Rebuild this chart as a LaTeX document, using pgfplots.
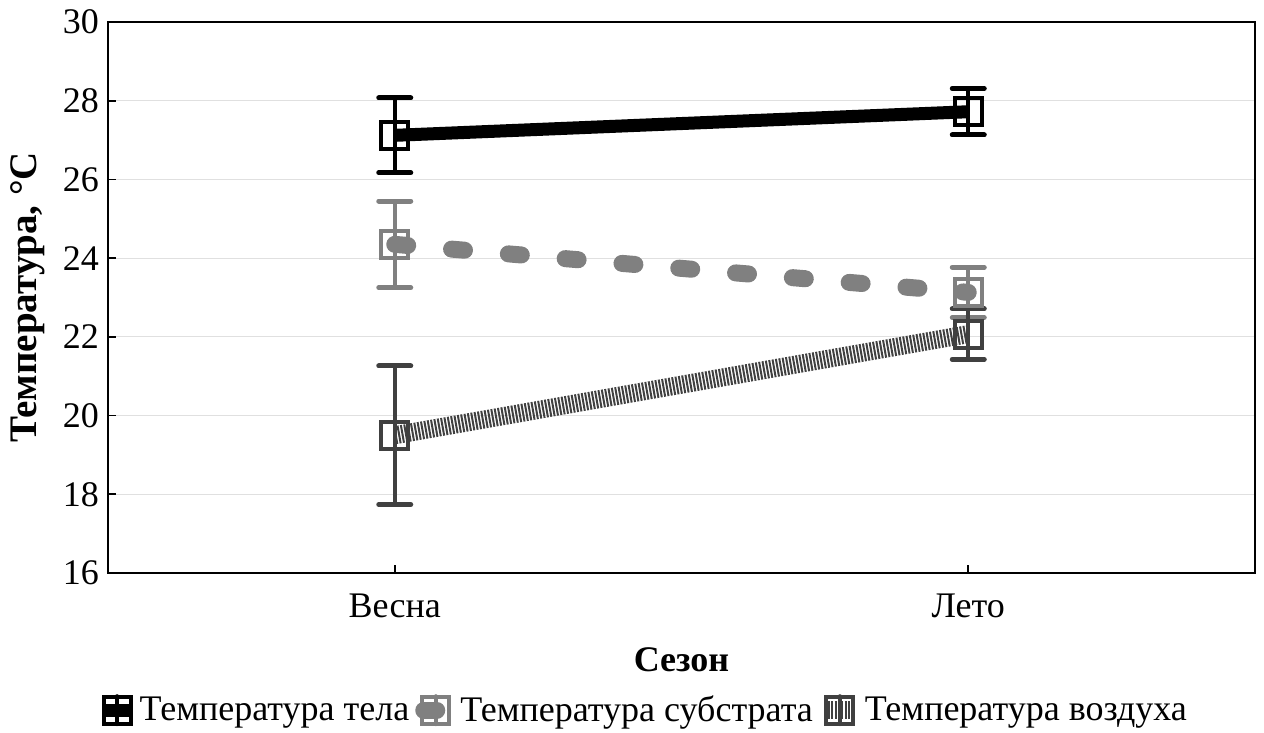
\documentclass[border=0pt]{standalone}
\usepackage{pgfplots}
\pgfplotsset{compat=1.18}
\usepackage{fontspec}
\setmainfont{Liberation Serif}
\definecolor{subgray}{HTML}{808080}
\definecolor{airgray}{HTML}{404040}

\pgfplotstableread{
x y e
0 27.12 0.95
1 27.72 0.59
}\tbody
\pgfplotstableread{
x y e
0 24.35 1.10
1 23.13 0.64
}\tsub
\pgfplotstableread{
x y e
0 19.50 1.76
1 22.07 0.64
}\tair

\begin{document}
\begin{tikzpicture}
\path[use as bounding box] (0,0) rectangle (632pt,366.5pt);
\begin{axis}[
 at={(54pt,80pt)}, anchor=south west,
 scale only axis, width=573.5pt, height=275.5pt,
 xmin=-0.5, xmax=1.5, ymin=16, ymax=30,
 xtick={0,1}, xticklabels={Весна,Лето},
 ytick={16,18,...,30},
 tick align=inside, major tick length=4pt,
 xtick pos=bottom, ytick pos=left,
 ymajorgrids, grid style={black!12, line width=0.6pt},
 axis line style={line width=1pt},
 tick style={black, line width=0.8pt},
 ticklabel style={font=\fontsize{18}{21}\selectfont},
 xticklabel style={yshift=-7pt},
 yticklabel style={xshift=-1pt},
 /pgf/number format/assume math mode=true,
 xlabel={Сезон}, ylabel={Температура, °C},
 xlabel style={font=\fontsize{18}{21}\selectfont\bfseries, at={(axis description cs:0.5,-0.158)}, anchor=center},
 ylabel style={font=\fontsize{19.5}{22}\selectfont\bfseries, at={(axis description cs:-0.0697,0.5)}, anchor=center},
 legend style={draw=none, fill=none, at={(axis description cs:0.468,-0.249)}, anchor=center,
   font=\fontsize{18}{21}\selectfont, inner sep=0pt,
   /tikz/every even column/.append style={column sep=1pt}},
 legend columns=3,
 legend image code/.code={
   \draw[#1, line width=2pt, solid, line cap=round] (0pt,-7pt) -- (0pt,7pt);
   \draw[mark repeat=2, mark phase=2, #1] plot coordinates {(-6pt,0pt) (0pt,0pt) (6pt,0pt)};
 },
 error bars/y dir=both, error bars/y explicit,
 error bars/error bar style={line width=2pt, solid},
 error bars/error mark options={line width=2.5pt, mark size=8pt, line cap=round, rotate=90},
]
\addplot[black, line width=6.5pt, mark=square,
  mark options={solid, line width=2pt, mark size=6.75pt, fill=none}]
  table[x=x, y=y, y error=e] {\tbody};
\addlegendentry{Температура тела}
\addplot[subgray, line width=8.5pt, line cap=round, dash pattern=on 6.5pt off 22pt, mark=square,
  mark options={solid, line width=2pt, mark size=6.75pt, fill=none}]
  table[x=x, y=y, y error=e] {\tsub};
\addlegendentry{Температура субстрата}
\addplot[airgray, line width=9pt, dash pattern=on 1pt off 0.7pt, mark=square,
  mark options={solid, line width=2pt, mark size=6.75pt, fill=none}]
  table[x=x, y=y, y error=e] {\tair};
\addlegendentry{Температура воздуха}
\end{axis}
\end{tikzpicture}
\end{document}
